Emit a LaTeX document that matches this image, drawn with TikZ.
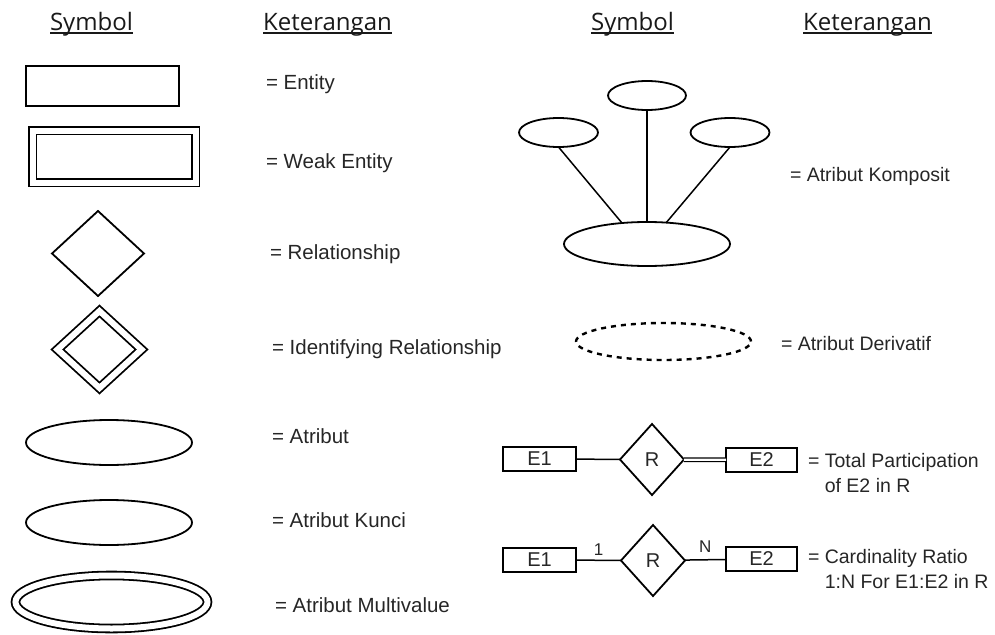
\documentclass[tikz,border=0pt]{standalone}
\usepackage{fontspec}
\setmainfont{Liberation Sans}
\newfontfamily\hdrfont{Open Sans}
\usetikzlibrary{shapes.geometric}

\begin{document}
\begin{tikzpicture}[x=1pt, y=-1pt, line width=1.8pt,
    every node/.style={inner sep=0pt, outer sep=0pt},
    hdr/.style={font=\hdrfont\fontsize{24}{28}\selectfont, anchor=base, text=black!90},
    lbl/.style={font=\fontsize{20.5}{24}\selectfont, anchor=base west, text=black!85},
    lblr/.style={font=\fontsize{19.5}{24.5}\selectfont, anchor=base west, align=left, text=black!85},
    ent/.style={draw, rectangle},
    rel/.style={draw, diamond},
    attr/.style={draw, ellipse},
    dbl/.style={double, double distance=6pt},
    small/.style={font=\fontsize{20}{22}\selectfont, text=black!85},
    card/.style={midway, above=5pt, font=\fontsize{17}{19}\selectfont, text=black!85},
    conn/.style={line width=1.5pt}]
    \useasboundingbox (0,0) rectangle (995,634);

    % headers
    \node[hdr] (symL) at (91.5,30.5) {Symbol};
    \node[hdr] (ketL) at (327.5,30.5) {Keterangan};
    \node[hdr] (symR) at (632.5,30.5) {Symbol};
    \node[hdr] (ketR) at (867.5,30.5) {Keterangan};
    \foreach \h in {symL, ketL, symR, ketR}
        \draw[line width=1.6pt, black!90] ([yshift=-2.3pt]\h.base west) -- ([yshift=-2.3pt]\h.base east);

    % left column
    \node[ent, minimum width=153, minimum height=40] (entity) at (102.5,86) {};
    \node[lbl] (entityT) at (266,89) {= Entity};

    \node[ent, dbl, minimum width=163, minimum height=52] (weak) at (114,156.5) {};
    \node[lbl] (weakT) at (266,168) {= Weak Entity};

    \node[rel, minimum width=92, minimum height=85] (relat) at (98,253.5) {};
    \node[lbl] (relatT) at (270,259) {= Relationship};

    \node[rel, dbl, minimum width=84, minimum height=77] (idrel) at (99.5,349.5) {};
    \node[lbl] (idrelT) at (272,354) {= Identifying Relationship};

    \node[attr, minimum width=166, minimum height=45] (attrib) at (109,442.5) {};
    \node[lbl] (attribT) at (272,443) {= Atribut};

    \node[attr, minimum width=166, minimum height=45] (key) at (109,522.5) {};
    \node[lbl] (keyT) at (272,527) {= Atribut Kunci};

    \node[attr, dbl, minimum width=192, minimum height=53] (multi) at (111.5,602) {};
    \node[lbl] (multiT) at (275,612) {= Atribut Multivalue};

    % right column: composite attribute
    \node[attr, minimum width=78, minimum height=29] (cTop) at (647,95.5) {};
    \node[attr, minimum width=79, minimum height=29] (cLeft) at (558.5,132.5) {};
    \node[attr, minimum width=79, minimum height=29] (cRight) at (730,132.5) {};
    \node[attr, minimum width=166, minimum height=44] (cBase) at (647,244) {};
    \draw[conn] (cLeft.south) -- (cBase.140);
    \draw[conn] (cTop.south) -- (cBase.north);
    \draw[conn] (cRight.south) -- (cBase.48);
    \node[lblr] (compT) at (790,181) {= Atribut Komposit};

    % derived attribute
    \node[attr, dash pattern=on 5pt off 5pt, line width=2.4pt, minimum width=175, minimum height=37] (deriv) at (663.5,341.5) {};
    \node[lblr] (derivT) at (781,350) {= Atribut Derivatif};

    % total participation
    \node[ent, small, minimum width=73, minimum height=24] (eA1) at (539.5,459) {E1};
    \node[rel, small, minimum width=64, minimum height=71] (rA) at (652,459.5) {R};
    \node[ent, small, minimum width=71, minimum height=24] (eA2) at (761.5,460) {E2};
    \draw[conn] (eA1) -- (rA);
    \draw[line width=1.3pt, double, double distance=2.2pt] (rA) -- (eA2);
    \node[lblr] (totT) at (808,492) {= Total Participation\\\phantom{= }of E2 in R};

    % cardinality ratio
    \node[ent, small, minimum width=73, minimum height=24] (eB1) at (539.5,560) {E1};
    \node[rel, small, minimum width=64, minimum height=71] (rB) at (653,560.5) {R};
    \node[ent, small, minimum width=71, minimum height=24] (eB2) at (761.5,559) {E2};
    \draw[conn] (eB1) -- node[card] (one) {1} (rB);
    \draw[conn] (rB) -- node[card, above=2pt] (many) {N} (eB2);
    \node[lblr] (cardT) at (808,588) {= Cardinality Ratio\\\phantom{= }1:N For E1:E2 in R};
\end{tikzpicture}
\end{document}
